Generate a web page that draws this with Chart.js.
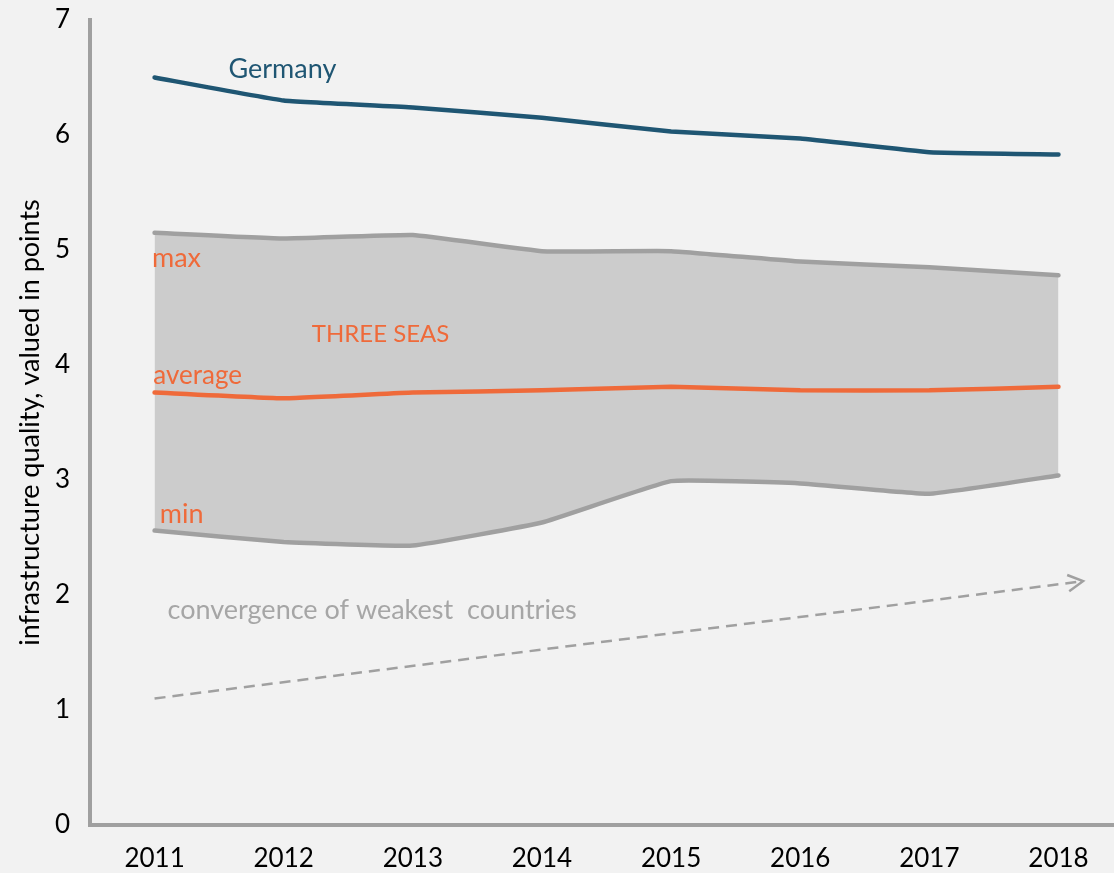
<!DOCTYPE html>
<html>
<head>
<meta charset="utf-8">
<script src="https://cdn.jsdelivr.net/npm/chart.js@4/dist/chart.umd.min.js"></script>
<style>
html,body{margin:0;padding:0;background:#f2f2f2;}
#wrap{width:1114px;height:873px;}
</style>
</head>
<body>
<div id="wrap"><canvas id="c" width="1114" height="873"></canvas></div>
<script>
const years = [2011, 2012, 2013, 2014, 2015, 2016, 2017, 2018];
const germany = [6.50, 6.30, 6.24, 6.15, 6.03, 5.97, 5.85, 5.83];
const maxVals = [5.15, 5.10, 5.13, 4.99, 4.99, 4.90, 4.85, 4.78];
const avgVals = [3.76, 3.71, 3.76, 3.78, 3.81, 3.78, 3.78, 3.81];
const minVals = [2.56, 2.46, 2.43, 2.63, 2.99, 2.97, 2.88, 3.04];
const trendX = [2011, 2018.19];
const trendY = [1.10, 2.12];
const yTicks = [0, 1, 2, 3, 4, 5, 6, 7];
const notes = [
  {text: 'Germany', x: 2011.99, y: 6.57, color: '#1f5673', align: 'center', size: 27},
  {text: 'max', x: 2010.98, y: 4.93, color: '#ef6a3a', align: 'left', size: 27},
  {text: 'THREE SEAS', x: 2012.75, y: 4.27, color: '#ef6a3a', align: 'center', size: 24},
  {text: 'average', x: 2010.99, y: 3.91, color: '#ef6a3a', align: 'left', size: 26},
  {text: 'min', x: 2011.04, y: 2.70, color: '#ef6a3a', align: 'left', size: 27},
  {text: 'convergence of weakest  countries', x: 2011.1, y: 1.87, color: '#a6a6a6', align: 'left', size: 27}
];

const pts = arr => years.map((yr, i) => ({x: yr, y: arr[i]}));

const bgPlugin = {
  id: 'bg',
  beforeDraw(chart) {
    const ctx = chart.ctx;
    ctx.save();
    ctx.fillStyle = '#f2f2f2';
    ctx.fillRect(0, 0, chart.width, chart.height);
    ctx.restore();
  }
};

const notesPlugin = {
  id: 'notes',
  afterDatasetsDraw(chart) {
    const ctx = chart.ctx;
    const xs = chart.scales.x, ys = chart.scales.y;
    ctx.save();
    notes.forEach(n => {
      ctx.font = n.size + 'px Lato';
      ctx.fillStyle = n.color;
      ctx.textAlign = n.align;
      ctx.textBaseline = 'middle';
      ctx.fillText(n.text, xs.getPixelForValue(n.x), ys.getPixelForValue(n.y));
    });
    const meta = chart.getDatasetMeta(4);
    const p0 = meta.data[0], p1 = meta.data[1];
    const ang = Math.atan2(p1.y - p0.y, p1.x - p0.x);
    const L = 17, spread = 0.5;
    ctx.strokeStyle = '#a0a0a0';
    ctx.lineWidth = 2.5;
    ctx.setLineDash([]);
    ctx.beginPath();
    ctx.moveTo(p1.x - L * Math.cos(ang - spread), p1.y - L * Math.sin(ang - spread));
    ctx.lineTo(p1.x, p1.y);
    ctx.lineTo(p1.x - L * Math.cos(ang + spread), p1.y - L * Math.sin(ang + spread));
    ctx.stroke();
    ctx.restore();
  }
};

new Chart(document.getElementById('c'), {
  type: 'line',
  data: {
    datasets: [
      {label: 'Germany', data: pts(germany), borderColor: '#1f5673', borderWidth: 4.5, pointRadius: 0, fill: false, borderCapStyle: 'round', tension: 0.1},
      {label: 'max', data: pts(maxVals), borderColor: '#a0a0a0', borderWidth: 4.5, pointRadius: 0, fill: 3, backgroundColor: '#cccccc', borderCapStyle: 'round', tension: 0.1},
      {label: 'average', data: pts(avgVals), borderColor: '#ef6a3a', borderWidth: 4.5, pointRadius: 0, fill: false, borderCapStyle: 'round', tension: 0.1},
      {label: 'min', data: pts(minVals), borderColor: '#a0a0a0', borderWidth: 4.5, pointRadius: 0, fill: false, borderCapStyle: 'round', tension: 0.1},
      {label: 'trend', data: trendX.map((x, i) => ({x: x, y: trendY[i]})), borderColor: '#a0a0a0', borderWidth: 2.5, borderDash: [11, 7], pointRadius: 0, fill: false}
    ]
  },
  options: {
    responsive: false,
    animation: false,
    layout: {padding: {top: 20, right: 0, bottom: 0, left: 0}},
    plugins: {legend: {display: false}, tooltip: {enabled: false}, filler: {drawTime: 'beforeDatasetsDraw'}},
    scales: {
      x: {
        type: 'linear',
        min: 2010.5,
        max: 2018.43,
        grid: {display: false, drawTicks: false},
        border: {display: true, color: '#a0a0a0', width: 4},
        afterBuildTicks: s => { s.ticks = years.map(v => ({value: v})); },
        afterFit: s => { s.height = 48; s.paddingLeft = 0; s.paddingRight = 0; },
        ticks: {
          color: '#000',
          font: {family: 'Lato', size: 26},
          padding: 18,
          maxRotation: 0,
          autoSkip: false,
          callback: v => String(v)
        }
      },
      y: {
        min: 0,
        max: 7,
        grid: {display: false, drawTicks: false},
        border: {display: true, color: '#a0a0a0', width: 4},
        afterBuildTicks: s => { s.ticks = yTicks.map(v => ({value: v})); },
        afterFit: s => { s.width = 90; s.paddingTop = 0; s.paddingBottom = 0; },
        ticks: {
          color: '#000',
          font: {family: 'Lato', size: 26},
          padding: 20
        },
        title: {
          display: true,
          text: 'infrastructure quality, valued in points',
          color: '#000',
          font: {family: 'Lato', size: 27},
          padding: {top: 14, bottom: 0}
        }
      }
    }
  },
  plugins: [bgPlugin, notesPlugin]
});
</script>
</body>
</html>
